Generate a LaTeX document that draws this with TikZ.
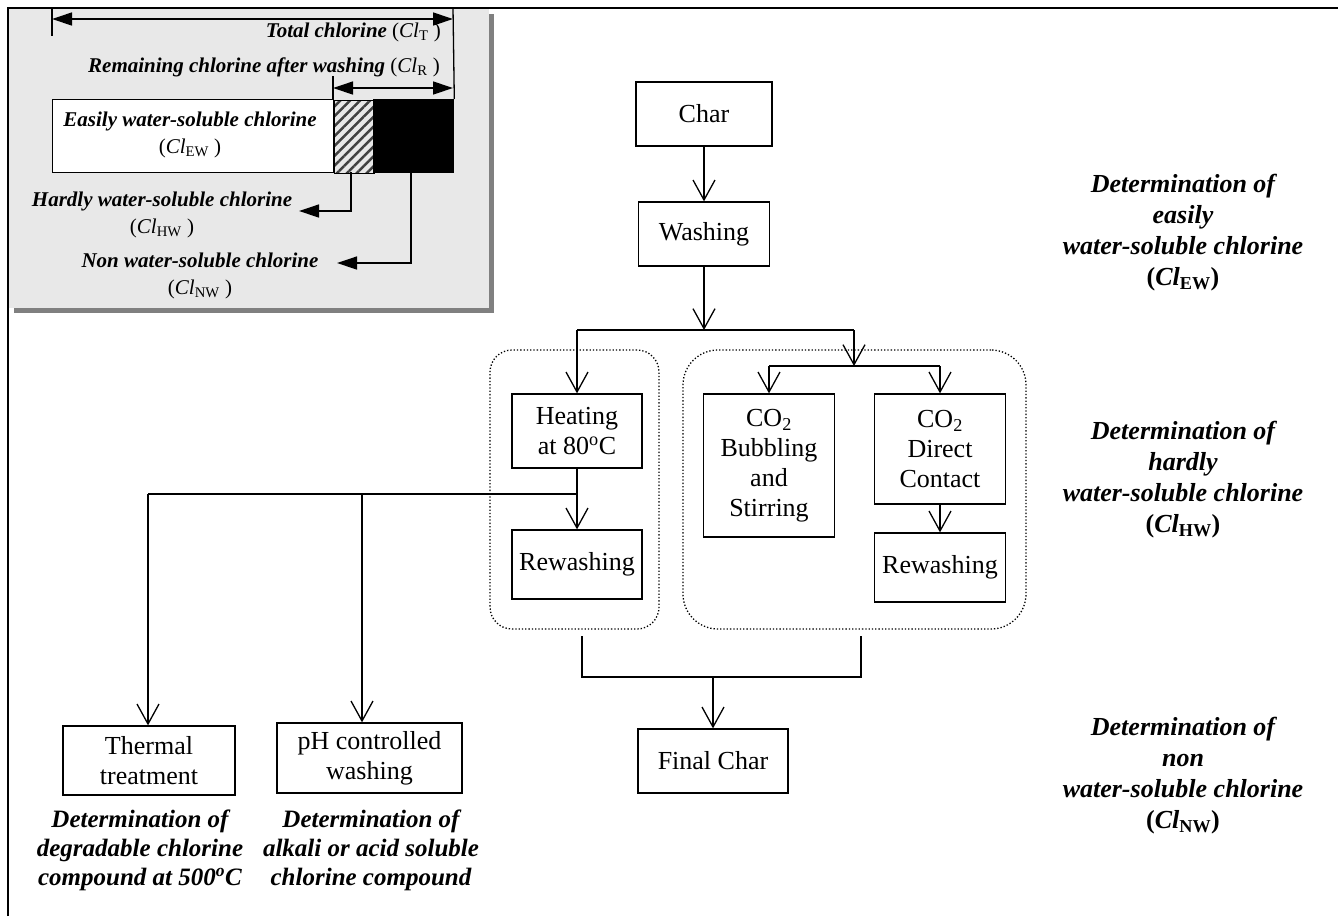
\documentclass[tikz,border=0pt]{standalone}
\usepackage{fontspec}
\setmainfont{Liberation Serif}
\usetikzlibrary{arrows.meta,patterns.meta}
\definecolor{insetgray}{HTML}{E8E8E8}
\definecolor{shadowgray}{HTML}{808080}
\begin{document}
\begin{tikzpicture}[x=1pt,y=-1pt,
  box/.style={draw, line width=1.3pt, inner sep=0pt, align=center, font=\fontsize{26}{30}\selectfont},
  grp/.style={draw, dotted, line width=1.3pt, inner sep=0pt},
  arr/.style={line width=1.3pt, -{Straight Barb[length=20pt,width=22pt]}},
  ln/.style={line width=1.3pt},
  lab/.style={align=center, inner sep=0pt, font=\fontsize{26}{31}\selectfont\bfseries\itshape},
  blab/.style={align=center, inner sep=0pt, font=\fontsize{25}{29}\selectfont\bfseries\itshape},
  ins/.style={align=center, inner sep=0pt, font=\fontsize{21}{27}\selectfont},
  tri/.style={line width=1.3pt, -{Triangle[length=20pt,width=13pt]}},
  dtri/.style={line width=1.3pt, {Triangle[length=20pt,width=13pt]}-{Triangle[length=20pt,width=13pt]}},
  seg/.style={draw, line width=1.3pt, inner sep=0pt, minimum height=73pt, anchor=north west}
]
\useasboundingbox (0,0) rectangle (1338,916);
% inset panel
\fill[shadowgray] (14,308) rectangle (494,313);
\fill[shadowgray] (489,14) rectangle (494,313);
\fill[insetgray] (8,8) rectangle (489,308);
% frame
\draw[line width=1.6pt] (8,916) -- (8,8) -- (1338,8);

% bar
\node[seg, fill=white, minimum width=281pt] (ew) at (52,99) {};
\node[seg, minimum width=40pt, pattern={Lines[angle=45,distance=7pt,line width=2.5pt]}, pattern color=black!75] (hw) at (333,99) {};
\node[seg, fill=black, minimum width=80pt] (nw) at (373,99) {};

\node[ins] (ewt) at (190,135) {\textbf{\textit{Easily water-soluble chlorine}}\\(\textit{Cl}\textsubscript{EW} )};
\node[ins, anchor=east] (tot) at (441,32) {\textbf{\textit{Total chlorine}} (\textit{Cl}\textsubscript{T} )};
\node[ins] (rem) at (264,67) {\textbf{\textit{Remaining chlorine after washing}} (\textit{Cl}\textsubscript{R} )};
\node[ins] (hwl) at (162,215) {\textbf{\textit{Hardly water-soluble chlorine}}\\(\textit{Cl}\textsubscript{HW} )};
\node[ins] (nwl) at (200,276) {\textbf{\textit{Non water-soluble chlorine}}\\(\textit{Cl}\textsubscript{NW} )};

% dimension lines
\coordinate (t1) at (52,19);
\coordinate (t2) at (453,19);
\draw[dtri] (t1) -- (t2);
\draw[ln] (52,8) -- (52,36);
\draw[ln] (453,8) -- (nw.north east);
\coordinate (r1) at (333,88);
\coordinate (r2) at (453,88);
\draw[dtri] (r1) -- (r2);
\draw[ln] (333,76) -- (hw.north west);
% inset connectors
\coordinate (hwend) at (299,211);
\coordinate (nwend) at (337,263);
\draw[tri] (351,172) |- (hwend);
\draw[tri] (411,172) |- (nwend);

% main flow
\node[box, minimum width=136pt, minimum height=64pt] (char) at (704,114) {Char};
\node[box, minimum width=131pt, minimum height=64pt] (wash) at (704,234) {Washing};
\draw[arr] (char.south) -- (wash.north);

\node[grp, rounded corners=22pt, minimum width=169pt, minimum height=279pt] (gL) at (574.5,489.5) {};
\node[grp, rounded corners=35pt, minimum width=343pt, minimum height=279pt] (gR) at (854.5,489.5) {};

\node[box, minimum width=130pt, minimum height=74pt] (heat) at (577,431) {Heating\\at 80\textsuperscript{o}C};
\node[box, minimum width=130pt, minimum height=69pt] (rew1) at (577,564.5) {Rewashing};
\node[box, minimum width=131pt, minimum height=143pt] (bub) at (769,465.5) {CO\textsubscript{2}\\Bubbling\\and\\Stirring};
\node[box, minimum width=131pt, minimum height=110pt] (dir) at (940,449) {CO\textsubscript{2}\\Direct\\Contact};
\node[box, minimum width=131pt, minimum height=69pt] (rew2) at (940,567.5) {Rewashing};

\coordinate (j1) at (704,330);
\coordinate (jL) at (577,330);
\coordinate (jR) at (854,330);
\coordinate (j2) at (854,366);
\coordinate (jBL) at (769,366);
\coordinate (jBR) at (940,366);
\draw[arr] (wash.south) -- (j1);
\draw[ln] (jL) -- (jR);
\draw[arr] (jL) -- (heat.north);
\draw[arr] (jR) -- (j2);
\draw[ln] (jBL) -- (jBR);
\draw[arr] (jBL) -- (bub.north);
\draw[arr] (jBR) -- (dir.north);
\draw[arr] (heat.south) -- (rew1.north);
\draw[arr] (dir.south) -- (rew2.north);

% lower merge
\coordinate (l1) at (582,636);
\coordinate (l2) at (582,677);
\coordinate (l3) at (861,677);
\coordinate (l4) at (861,636);
\coordinate (j3) at (713,677);
\node[box, minimum width=150pt, minimum height=64pt] (final) at (713,761) {Final Char};
\draw[ln] (l1) -- (l2) -- (l3) -- (l4);
\draw[arr] (j3) -- (final.north);

% left branch
\coordinate (b1) at (577,494);
\coordinate (b2) at (148,494);
\coordinate (b3) at (362,494);
\node[box, minimum width=172pt, minimum height=69pt] (therm) at (149,760.5) {Thermal\\treatment};
\node[box, minimum width=185pt, minimum height=70pt] (ph) at (369.5,758) {pH controlled\\washing};
\draw[ln] (b1) -- (b2);
\draw[arr] (b2) -- (b2 |- therm.north);
\draw[arr] (b3) -- (b3 |- ph.north);

% labels
\node[lab] (L1) at (1183,233) {Determination of\\easily\\water-soluble chlorine\\{\upshape(}Cl\textsubscript{\upshape EW}{\upshape)}};
\node[lab] (L2) at (1183,480) {Determination of\\hardly\\water-soluble chlorine\\{\upshape(}Cl\textsubscript{\upshape HW}{\upshape)}};
\node[lab] (L3) at (1183,776) {Determination of\\non\\water-soluble chlorine\\{\upshape(}Cl\textsubscript{\upshape NW}{\upshape)}};
\node[blab] (B1) at (140,850) {Determination of\\degradable chlorine\\compound at 500\textsuperscript{o}C};
\node[blab] (B2) at (371,850) {Determination of\\alkali or acid soluble\\chlorine compound};
\end{tikzpicture}
\end{document}
